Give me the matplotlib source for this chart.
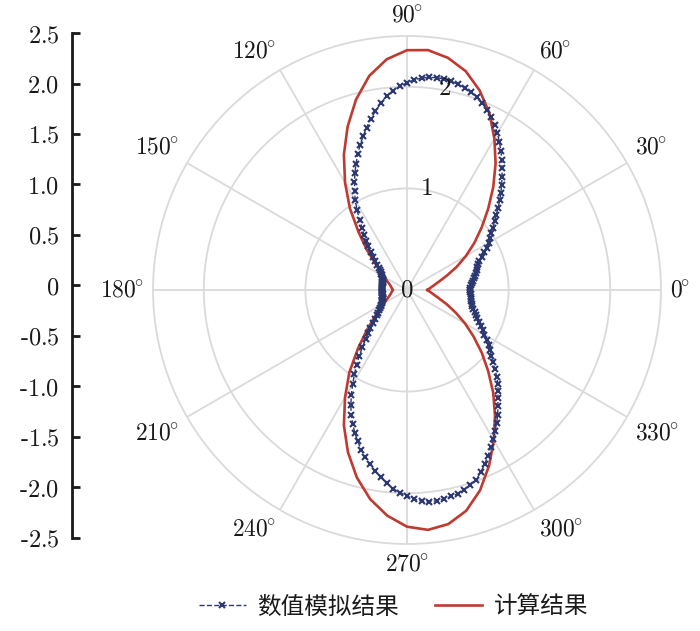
import numpy as np
import matplotlib
matplotlib.use("Agg")
import matplotlib.pyplot as plt
from matplotlib.lines import Line2D

plt.rcParams['font.family'] = ['DejaVu Serif']
plt.rcParams['mathtext.fontset'] = 'cm'

# 计算结果 (every 5 deg)
theta_calc = np.arange(0, 360, 5)
r_calc = [0.20, 0.23, 0.27, 0.33, 0.42, 0.54, 0.67, 0.81, 0.96, 1.13,
          1.32, 1.52, 1.72, 1.92, 2.09, 2.23, 2.32, 2.37, 2.36, 2.28,
          2.14, 1.94, 1.71, 1.47, 1.22, 0.98, 0.74, 0.56, 0.41, 0.31,
          0.255, 0.22, 0.19, 0.17, 0.158, 0.147, 0.138,
          0.147, 0.158, 0.17, 0.19, 0.22, 0.26, 0.32, 0.42, 0.56, 0.75,
          0.99, 1.22, 1.47, 1.70, 1.91, 2.09, 2.23, 2.33, 2.37, 2.34,
          2.25, 2.10, 1.91, 1.71, 1.51, 1.32, 1.13, 0.96, 0.80, 0.66,
          0.53, 0.42, 0.33, 0.27, 0.23]

# 数值模拟结果 (every 2 deg)
theta_sim = np.arange(0, 360, 2)
r_sim = [0.620, 0.625, 0.632, 0.640, 0.652, 0.665, 0.680, 0.697, 0.712, 0.727,
         0.742, 0.765, 0.805, 0.848, 0.890, 0.930, 0.966, 1.002, 1.045, 1.095,
         1.145, 1.205, 1.268, 1.330, 1.392, 1.455, 1.520, 1.587, 1.652, 1.716,
         1.780, 1.836, 1.892, 1.940, 1.980, 2.020, 2.045, 2.068, 2.086, 2.098,
         2.110, 2.110, 2.104, 2.092, 2.070, 2.040, 2.006, 1.968, 1.918, 1.854,
         1.790, 1.718, 1.646, 1.572, 1.496, 1.420, 1.340, 1.260, 1.180, 1.100,
         1.020, 0.928, 0.836, 0.752, 0.688, 0.635, 0.576, 0.517, 0.466, 0.423,
         0.380, 0.356, 0.332, 0.313, 0.299, 0.285, 0.277, 0.269, 0.263, 0.259,
         0.255, 0.253, 0.251, 0.249, 0.247, 0.246, 0.245, 0.245, 0.245, 0.245,
         0.245, 0.245, 0.245, 0.245, 0.245, 0.245, 0.247, 0.249, 0.251, 0.253,
         0.255, 0.261, 0.267, 0.274, 0.282, 0.290, 0.306, 0.322, 0.342, 0.366,
         0.390, 0.430, 0.470, 0.518, 0.574, 0.630, 0.714, 0.798, 0.886, 0.978,
         1.070, 1.166, 1.262, 1.348, 1.424, 1.500, 1.568, 1.636, 1.698, 1.754,
         1.810, 1.862, 1.914, 1.960, 1.996, 2.030, 2.058, 2.086, 2.098, 2.094,
         2.090, 2.078, 2.066, 2.046, 2.018, 1.990, 1.934, 1.878, 1.818, 1.754,
         1.690, 1.634, 1.578, 1.518, 1.454, 1.390, 1.340, 1.288, 1.228, 1.164,
         1.100, 1.054, 1.010, 0.968, 0.924, 0.880, 0.844, 0.808, 0.776, 0.748,
         0.720, 0.700, 0.680, 0.664, 0.652, 0.640, 0.636, 0.632, 0.628, 0.624]

angle_ticks = np.arange(0, 360, 30)
angle_labels = [rf"${a}^{{\!\!\circ}}$" for a in angle_ticks]
r_ticks = [0, 1, 2]
y_ticks = np.arange(-2.5, 2.51, 0.5)
y_labels = ["-2.5", "-2.0", "-1.5", "-1.0", "-0.5", "0",
            "0.5", "1.0", "1.5", "2.0", "2.5"]

blue = "#2c3870"
red = "#bf3a30"
grid_c = "#dadada"
txt_c = "#1a1a1a"

fig = plt.figure(figsize=(7, 6.31), dpi=100)

ax = fig.add_axes([0.2186, 0.1379, 0.7257, 0.8051], projection="polar")
th_s = np.deg2rad(np.append(theta_sim, theta_sim[0]))
rs = np.append(r_sim, r_sim[0])
th_c = np.deg2rad(np.append(theta_calc, theta_calc[0]))
rc = np.append(r_calc, r_calc[0])
ax.plot(th_c, rc, color=red, lw=1.9, zorder=3)
ax.plot(th_s, rs, color=blue, lw=1.0, ls="--", marker="x",
        ms=3.8, mew=1.5, zorder=4)

ax.set_ylim(0, 2.5)
ax.set_yticks(r_ticks)
ax.set_yticklabels([])
for t in r_ticks:
    ax.text(np.deg2rad(79.5), t + (0.02 if t else 0), rf"${t}$", fontsize=18,
            color=txt_c, ha="center", va="center", zorder=5)

ax.set_xticks(np.deg2rad(angle_ticks))
ax.set_xticklabels([])
# angle labels placed just outside the outer ring
pad = 9
for a, lab in zip(angle_ticks, angle_labels):
    c, s = np.cos(np.deg2rad(a)), np.sin(np.deg2rad(a))
    ha = "left" if c > 0.1 else ("right" if c < -0.1 else "center")
    va = "bottom" if s > 0.1 else ("top" if s < -0.1 else "center")
    ax.annotate(lab, xy=(np.deg2rad(a), 2.5), xytext=(pad * c, pad * s),
                textcoords="offset pixels", ha=ha, va=va, fontsize=17,
                color=txt_c, annotation_clip=False)

ax.grid(color=grid_c, lw=1.3)
ax.spines["polar"].set_color(grid_c)
ax.spines["polar"].set_linewidth(1.3)

# left cartesian axis
lax = fig.add_axes([0.1029, 0.1474, 0.0005, 0.8003])
lax.set_ylim(-2.5, 2.5)
lax.set_yticks(y_ticks)
lax.set_yticklabels([rf"$\text{{{s}}}$" for s in y_labels], fontsize=17.5,
                    color=txt_c)
lax.set_xticks([])
for s in ["top", "right", "bottom"]:
    lax.spines[s].set_visible(False)
lax.spines["left"].set_linewidth(2)
lax.spines["left"].set_color(txt_c)
lax.tick_params(axis="y", direction="in", length=6, width=2, pad=9, color=txt_c)
lax.patch.set_visible(False)

handles = [
    Line2D([0], [0], color=blue, lw=1.0, ls="--", marker="x", ms=4, mew=1.5),
    Line2D([0], [0], color=red, lw=1.9),
]
fig.legend(handles, ["数值模拟结果", "计算结果"], loc="center",
           bbox_to_anchor=(0.562, 0.038), ncol=2, frameon=False,
           prop={"family": ["Noto Sans CJK SC"], "size": 17},
           handlelength=2.0, columnspacing=1.5, handletextpad=0.5,
           labelcolor=txt_c)

fig.savefig("out.png", dpi=100)
